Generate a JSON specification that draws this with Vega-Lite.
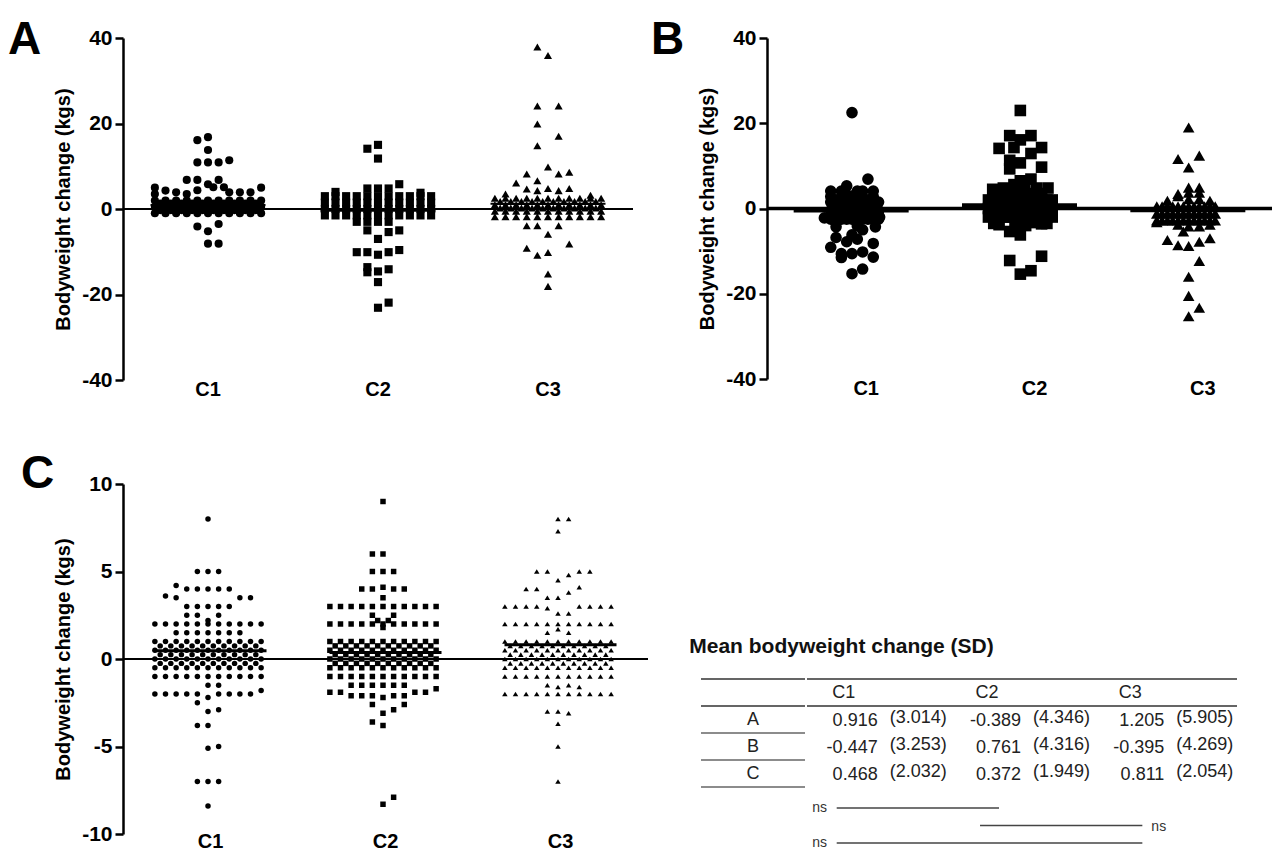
{
"$schema": "https://vega.github.io/schema/vega-lite/v6.json",
"background": "white",
"padding": {"left": 8, "top": 17, "right": 0, "bottom": 0},
"config": {
  "view": {"stroke": null},
  "font": "Liberation Sans",
  "axis": {"labelColor": "black", "titleColor": "black", "grid": false},
  "axisY": {"domainColor": "black", "domainWidth": 2.5, "tickColor": "black", "tickWidth": 2.5, "tickSize": 8, "labelFontSize": 21, "labelFontWeight": "bold", "titleFontSize": 20, "titleFontWeight": "bold", "labelPadding": 3, "titlePadding": 8},
  "axisX": {"domain": false, "ticks": false, "labelAngle": 0, "labelFontSize": 20, "labelFontWeight": "bold", "labelPadding": -1},
  "title": {"fontSize": 46, "fontWeight": "bold", "color": "black", "anchor": "start", "frame": "group", "offset": 0}
},
"datasets": {
"A": [
{"group":"C1","slot":-5,"value":2},{"group":"C1","slot":-5,"value":0.5},{"group":"C1","slot":-5,"value":-1},
{"group":"C1","slot":-4,"value":2},{"group":"C1","slot":-4,"value":0.5},{"group":"C1","slot":-4,"value":-1},
{"group":"C1","slot":-3,"value":2},{"group":"C1","slot":-3,"value":0.5},{"group":"C1","slot":-3,"value":-1},
{"group":"C1","slot":-2,"value":2},{"group":"C1","slot":-2,"value":0.5},{"group":"C1","slot":-2,"value":-1},
{"group":"C1","slot":-1,"value":2},{"group":"C1","slot":-1,"value":0.5},{"group":"C1","slot":-1,"value":-1},
{"group":"C1","slot":0,"value":2},{"group":"C1","slot":0,"value":0.5},{"group":"C1","slot":0,"value":-1},
{"group":"C1","slot":1,"value":2},{"group":"C1","slot":1,"value":0.5},{"group":"C1","slot":1,"value":-1},
{"group":"C1","slot":2,"value":2},{"group":"C1","slot":2,"value":0.5},{"group":"C1","slot":2,"value":-1},
{"group":"C1","slot":3,"value":2},{"group":"C1","slot":3,"value":0.5},{"group":"C1","slot":3,"value":-1},
{"group":"C1","slot":4,"value":2},{"group":"C1","slot":4,"value":0.5},{"group":"C1","slot":4,"value":-1},
{"group":"C1","slot":5,"value":2},{"group":"C1","slot":5,"value":0.5},{"group":"C1","slot":5,"value":-1},
{"group":"C1","slot":-4.5,"value":1.25},{"group":"C1","slot":-3.5,"value":1.25},{"group":"C1","slot":-2.5,"value":1.25},{"group":"C1","slot":-1.5,"value":1.25},{"group":"C1","slot":-0.5,"value":1.25},
{"group":"C1","slot":0.5,"value":1.25},{"group":"C1","slot":1.5,"value":1.25},{"group":"C1","slot":2.5,"value":1.25},{"group":"C1","slot":3.5,"value":1.25},{"group":"C1","slot":4.5,"value":1.25},
{"group":"C1","slot":-4.5,"value":-0.25},{"group":"C1","slot":-3.5,"value":-0.25},{"group":"C1","slot":-2.5,"value":-0.25},{"group":"C1","slot":-1.5,"value":-0.25},{"group":"C1","slot":-0.5,"value":-0.25},
{"group":"C1","slot":0.5,"value":-0.25},{"group":"C1","slot":1.5,"value":-0.25},{"group":"C1","slot":2.5,"value":-0.25},{"group":"C1","slot":3.5,"value":-0.25},{"group":"C1","slot":4.5,"value":-0.25},
{"group":"C1","slot":-5,"value":5.0},{"group":"C1","slot":-5,"value":3.5},{"group":"C1","slot":-4,"value":4.3},{"group":"C1","slot":-3,"value":3.9},
{"group":"C1","slot":-2,"value":3.5},{"group":"C1","slot":-1,"value":4.4},{"group":"C1","slot":0,"value":5.8},{"group":"C1","slot":0.5,"value":5.1},
{"group":"C1","slot":1.5,"value":5.1},{"group":"C1","slot":1,"value":6.8},{"group":"C1","slot":-1,"value":6.8},{"group":"C1","slot":-2,"value":6.8},
{"group":"C1","slot":2,"value":3.9},{"group":"C1","slot":3,"value":3.9},{"group":"C1","slot":4,"value":3.9},{"group":"C1","slot":5,"value":5.0},
{"group":"C1","slot":-1,"value":10.9},{"group":"C1","slot":0,"value":10.9},{"group":"C1","slot":1,"value":10.9},{"group":"C1","slot":2,"value":11.4},
{"group":"C1","slot":-1,"value":16.1},{"group":"C1","slot":0,"value":16.8},{"group":"C1","slot":0,"value":13.8},
{"group":"C1","slot":-1,"value":-4.1},{"group":"C1","slot":1,"value":-3.5},{"group":"C1","slot":0,"value":-5.2},{"group":"C1","slot":0,"value":-8.1},{"group":"C1","slot":1,"value":-8.1},
{"group":"C2","slot":-5,"value":3},{"group":"C2","slot":-5,"value":1.5},{"group":"C2","slot":-5,"value":0},{"group":"C2","slot":-5,"value":-1.5},
{"group":"C2","slot":-4,"value":3},{"group":"C2","slot":-4,"value":1.5},{"group":"C2","slot":-4,"value":0},{"group":"C2","slot":-4,"value":-1.5},
{"group":"C2","slot":-3,"value":3},{"group":"C2","slot":-3,"value":1.5},{"group":"C2","slot":-3,"value":0},{"group":"C2","slot":-3,"value":-1.5},
{"group":"C2","slot":-2,"value":3},{"group":"C2","slot":-2,"value":1.5},{"group":"C2","slot":-2,"value":0},{"group":"C2","slot":-2,"value":-1.5},
{"group":"C2","slot":-1,"value":3},{"group":"C2","slot":-1,"value":1.5},{"group":"C2","slot":-1,"value":0},{"group":"C2","slot":-1,"value":-1.5},
{"group":"C2","slot":0,"value":3},{"group":"C2","slot":0,"value":1.5},{"group":"C2","slot":0,"value":0},{"group":"C2","slot":0,"value":-1.5},
{"group":"C2","slot":1,"value":3},{"group":"C2","slot":1,"value":1.5},{"group":"C2","slot":1,"value":0},{"group":"C2","slot":1,"value":-1.5},
{"group":"C2","slot":2,"value":3},{"group":"C2","slot":2,"value":1.5},{"group":"C2","slot":2,"value":0},{"group":"C2","slot":2,"value":-1.5},
{"group":"C2","slot":3,"value":3},{"group":"C2","slot":3,"value":1.5},{"group":"C2","slot":3,"value":0},{"group":"C2","slot":3,"value":-1.5},
{"group":"C2","slot":4,"value":3},{"group":"C2","slot":4,"value":1.5},{"group":"C2","slot":4,"value":0},{"group":"C2","slot":4,"value":-1.5},
{"group":"C2","slot":5,"value":3},{"group":"C2","slot":5,"value":1.5},{"group":"C2","slot":5,"value":0},{"group":"C2","slot":5,"value":-1.5},
{"group":"C2","slot":-1,"value":14.1},{"group":"C2","slot":0,"value":15.0},{"group":"C2","slot":0,"value":11.8},{"group":"C2","slot":-1,"value":4.8},
{"group":"C2","slot":0,"value":4.8},{"group":"C2","slot":1,"value":4.8},{"group":"C2","slot":2,"value":5.8},{"group":"C2","slot":-4,"value":4},{"group":"C2","slot":4,"value":3.8},
{"group":"C2","slot":-2,"value":-3},{"group":"C2","slot":-1,"value":-3},{"group":"C2","slot":0,"value":-3},{"group":"C2","slot":1,"value":-3},
{"group":"C2","slot":-1,"value":-5.0},{"group":"C2","slot":1,"value":-5.4},{"group":"C2","slot":2,"value":-5.0},{"group":"C2","slot":0,"value":-7.0},
{"group":"C2","slot":-2,"value":-10.1},{"group":"C2","slot":-1,"value":-10.1},{"group":"C2","slot":0,"value":-10.7},{"group":"C2","slot":1,"value":-10.1},{"group":"C2","slot":2,"value":-9.6},
{"group":"C2","slot":-1,"value":-13.6},{"group":"C2","slot":-1,"value":-14.8},{"group":"C2","slot":0,"value":-14.6},{"group":"C2","slot":1,"value":-14.1},
{"group":"C2","slot":0,"value":-17.1},{"group":"C2","slot":0,"value":-23.1},{"group":"C2","slot":1,"value":-21.9},
{"group":"C3","slot":-5,"value":2.5},{"group":"C3","slot":-5,"value":1},{"group":"C3","slot":-5,"value":-0.5},{"group":"C3","slot":-5,"value":-1.8},
{"group":"C3","slot":-4,"value":2.5},{"group":"C3","slot":-4,"value":1},{"group":"C3","slot":-4,"value":-0.5},{"group":"C3","slot":-4,"value":-1.8},
{"group":"C3","slot":-3,"value":2.5},{"group":"C3","slot":-3,"value":1},{"group":"C3","slot":-3,"value":-0.5},{"group":"C3","slot":-3,"value":-1.8},
{"group":"C3","slot":-2,"value":2.5},{"group":"C3","slot":-2,"value":1},{"group":"C3","slot":-2,"value":-0.5},{"group":"C3","slot":-2,"value":-1.8},
{"group":"C3","slot":-1,"value":2.5},{"group":"C3","slot":-1,"value":1},{"group":"C3","slot":-1,"value":-0.5},{"group":"C3","slot":-1,"value":-1.8},
{"group":"C3","slot":0,"value":2.5},{"group":"C3","slot":0,"value":1},{"group":"C3","slot":0,"value":-0.5},{"group":"C3","slot":0,"value":-1.8},
{"group":"C3","slot":1,"value":2.5},{"group":"C3","slot":1,"value":1},{"group":"C3","slot":1,"value":-0.5},{"group":"C3","slot":1,"value":-1.8},
{"group":"C3","slot":2,"value":2.5},{"group":"C3","slot":2,"value":1},{"group":"C3","slot":2,"value":-0.5},{"group":"C3","slot":2,"value":-1.8},
{"group":"C3","slot":3,"value":2.5},{"group":"C3","slot":3,"value":1},{"group":"C3","slot":3,"value":-0.5},{"group":"C3","slot":3,"value":-1.8},
{"group":"C3","slot":4,"value":2.5},{"group":"C3","slot":4,"value":1},{"group":"C3","slot":4,"value":-0.5},{"group":"C3","slot":4,"value":-1.8},
{"group":"C3","slot":5,"value":2.5},{"group":"C3","slot":5,"value":1},{"group":"C3","slot":5,"value":-0.5},{"group":"C3","slot":5,"value":-1.8},
{"group":"C3","slot":-4.5,"value":1.75},{"group":"C3","slot":-3.5,"value":1.75},{"group":"C3","slot":-2.5,"value":1.75},{"group":"C3","slot":-1.5,"value":1.75},{"group":"C3","slot":-0.5,"value":1.75},
{"group":"C3","slot":0.5,"value":1.75},{"group":"C3","slot":1.5,"value":1.75},{"group":"C3","slot":2.5,"value":1.75},{"group":"C3","slot":3.5,"value":1.75},{"group":"C3","slot":4.5,"value":1.75},
{"group":"C3","slot":-4.5,"value":0.25},{"group":"C3","slot":-3.5,"value":0.25},{"group":"C3","slot":-2.5,"value":0.25},{"group":"C3","slot":-1.5,"value":0.25},{"group":"C3","slot":-0.5,"value":0.25},
{"group":"C3","slot":0.5,"value":0.25},{"group":"C3","slot":1.5,"value":0.25},{"group":"C3","slot":2.5,"value":0.25},{"group":"C3","slot":3.5,"value":0.25},{"group":"C3","slot":4.5,"value":0.25},
{"group":"C3","slot":-1,"value":37.9},{"group":"C3","slot":0,"value":35.9},{"group":"C3","slot":-1,"value":24.1},{"group":"C3","slot":1,"value":24.1},
{"group":"C3","slot":-1,"value":19.9},{"group":"C3","slot":1,"value":17.0},{"group":"C3","slot":-1,"value":14.8},{"group":"C3","slot":0,"value":9.8},
{"group":"C3","slot":-2,"value":8.2},{"group":"C3","slot":1,"value":8.2},{"group":"C3","slot":2,"value":8.6},{"group":"C3","slot":-1,"value":6.6},{"group":"C3","slot":-3,"value":6.1},
{"group":"C3","slot":-2,"value":4.7},{"group":"C3","slot":-1,"value":4.3},{"group":"C3","slot":0,"value":4.8},{"group":"C3","slot":1,"value":4.3},{"group":"C3","slot":2,"value":4.8},
{"group":"C3","slot":-4,"value":3.5},{"group":"C3","slot":4,"value":3.2},
{"group":"C3","slot":-2,"value":-3.9},{"group":"C3","slot":-1,"value":-3.9},{"group":"C3","slot":1,"value":-3.9},{"group":"C3","slot":0,"value":-5.9},
{"group":"C3","slot":-2,"value":-9.2},{"group":"C3","slot":-1,"value":-10.8},{"group":"C3","slot":0,"value":-10.2},{"group":"C3","slot":2,"value":-8.2},
{"group":"C3","slot":0,"value":-15.2},{"group":"C3","slot":0,"value":-18.1}
],
"B": [
{"group":"C1","slot":-2,"value":1.5},{"group":"C1","slot":-2,"value":-0.5},{"group":"C1","slot":-2,"value":-2.5},
{"group":"C1","slot":-1.5,"value":1.5},{"group":"C1","slot":-1.5,"value":-0.5},{"group":"C1","slot":-1.5,"value":-2.5},
{"group":"C1","slot":-1,"value":1.5},{"group":"C1","slot":-1,"value":-0.5},{"group":"C1","slot":-1,"value":-2.5},
{"group":"C1","slot":-0.5,"value":1.5},{"group":"C1","slot":-0.5,"value":-0.5},{"group":"C1","slot":-0.5,"value":-2.5},
{"group":"C1","slot":0,"value":1.5},{"group":"C1","slot":0,"value":-0.5},{"group":"C1","slot":0,"value":-2.5},
{"group":"C1","slot":0.5,"value":1.5},{"group":"C1","slot":0.5,"value":-0.5},{"group":"C1","slot":0.5,"value":-2.5},
{"group":"C1","slot":1,"value":1.5},{"group":"C1","slot":1,"value":-0.5},{"group":"C1","slot":1,"value":-2.5},
{"group":"C1","slot":1.5,"value":1.5},{"group":"C1","slot":1.5,"value":-0.5},{"group":"C1","slot":1.5,"value":-2.5},
{"group":"C1","slot":2,"value":1.5},{"group":"C1","slot":2,"value":-0.5},{"group":"C1","slot":2,"value":-2.5},
{"group":"C1","slot":2.5,"value":1.5},{"group":"C1","slot":2.5,"value":-0.5},{"group":"C1","slot":2.5,"value":-2.5},
{"group":"C1","slot":0,"value":22.5},{"group":"C1","slot":-2,"value":2.8},{"group":"C1","slot":-2,"value":4.1},{"group":"C1","slot":-1,"value":2.8},{"group":"C1","slot":-1,"value":4.1},
{"group":"C1","slot":-0.5,"value":3.2},{"group":"C1","slot":-0.5,"value":5.3},{"group":"C1","slot":0,"value":2.9},{"group":"C1","slot":0.5,"value":2.8},{"group":"C1","slot":0.5,"value":4.1},
{"group":"C1","slot":1,"value":2.8},{"group":"C1","slot":1,"value":4.1},{"group":"C1","slot":1.5,"value":6.9},{"group":"C1","slot":2,"value":2.8},{"group":"C1","slot":2,"value":4.1},
{"group":"C1","slot":-2.6,"value":-2.2},{"group":"C1","slot":2.6,"value":-2},{"group":"C1","slot":-1.5,"value":-4.3},{"group":"C1","slot":0.5,"value":-4.1},{"group":"C1","slot":2.2,"value":-4.3},
{"group":"C1","slot":-1.5,"value":-6.8},{"group":"C1","slot":-2,"value":-9.1},{"group":"C1","slot":-0.5,"value":-7.8},{"group":"C1","slot":-1,"value":-10.6},{"group":"C1","slot":-1,"value":-11.5},
{"group":"C1","slot":0,"value":-6.2},{"group":"C1","slot":0.5,"value":-7.2},{"group":"C1","slot":1,"value":-5.0},{"group":"C1","slot":0,"value":-10.6},{"group":"C1","slot":1,"value":-10.2},
{"group":"C1","slot":2,"value":-8.2},{"group":"C1","slot":2,"value":-11.4},{"group":"C1","slot":0,"value":-15.3},{"group":"C1","slot":1,"value":-14.2},
{"group":"C2","slot":-3,"value":2},{"group":"C2","slot":-3,"value":0},{"group":"C2","slot":-3,"value":-2},
{"group":"C2","slot":-2.5,"value":2},{"group":"C2","slot":-2.5,"value":0},{"group":"C2","slot":-2.5,"value":-2},
{"group":"C2","slot":-2,"value":2},{"group":"C2","slot":-2,"value":0},{"group":"C2","slot":-2,"value":-2},
{"group":"C2","slot":-1.5,"value":2},{"group":"C2","slot":-1.5,"value":0},{"group":"C2","slot":-1.5,"value":-2},
{"group":"C2","slot":-1,"value":2},{"group":"C2","slot":-1,"value":0},{"group":"C2","slot":-1,"value":-2},
{"group":"C2","slot":-0.5,"value":2},{"group":"C2","slot":-0.5,"value":0},{"group":"C2","slot":-0.5,"value":-2},
{"group":"C2","slot":0,"value":2},{"group":"C2","slot":0,"value":0},{"group":"C2","slot":0,"value":-2},
{"group":"C2","slot":0.5,"value":2},{"group":"C2","slot":0.5,"value":0},{"group":"C2","slot":0.5,"value":-2},
{"group":"C2","slot":1,"value":2},{"group":"C2","slot":1,"value":0},{"group":"C2","slot":1,"value":-2},
{"group":"C2","slot":1.5,"value":2},{"group":"C2","slot":1.5,"value":0},{"group":"C2","slot":1.5,"value":-2},
{"group":"C2","slot":2,"value":2},{"group":"C2","slot":2,"value":0},{"group":"C2","slot":2,"value":-2},
{"group":"C2","slot":2.5,"value":2},{"group":"C2","slot":2.5,"value":0},{"group":"C2","slot":2.5,"value":-2},
{"group":"C2","slot":3,"value":2},{"group":"C2","slot":3,"value":0},{"group":"C2","slot":3,"value":-2},
{"group":"C2","slot":0,"value":23.0},{"group":"C2","slot":-1,"value":17.1},{"group":"C2","slot":0,"value":16.1},{"group":"C2","slot":1,"value":17.1},
{"group":"C2","slot":-2,"value":14.1},{"group":"C2","slot":-0.6,"value":14.3},{"group":"C2","slot":2,"value":14.3},{"group":"C2","slot":-1,"value":11.3},
{"group":"C2","slot":-1,"value":9.3},{"group":"C2","slot":0,"value":10.7},{"group":"C2","slot":1,"value":12.9},{"group":"C2","slot":2,"value":9.7},
{"group":"C2","slot":1,"value":6.9},{"group":"C2","slot":0,"value":6.5},{"group":"C2","slot":-2.6,"value":4.5},{"group":"C2","slot":-1.6,"value":4.8},
{"group":"C2","slot":-0.6,"value":5.6},{"group":"C2","slot":0.4,"value":5.6},{"group":"C2","slot":1.5,"value":4.8},{"group":"C2","slot":2.6,"value":4.8},
{"group":"C2","slot":-2,"value":3.5},{"group":"C2","slot":-1,"value":3.5},{"group":"C2","slot":0,"value":3.5},{"group":"C2","slot":1,"value":3.5},{"group":"C2","slot":2,"value":3.5},
{"group":"C2","slot":-2.5,"value":-3.5},{"group":"C2","slot":-2,"value":-3.8},{"group":"C2","slot":-1,"value":-5.4},{"group":"C2","slot":-0.5,"value":-4},
{"group":"C2","slot":0,"value":-6.2},{"group":"C2","slot":0.5,"value":-4},{"group":"C2","slot":1,"value":-3.3},{"group":"C2","slot":2,"value":-3.6},{"group":"C2","slot":2.5,"value":-3.5},
{"group":"C2","slot":-1,"value":-12.2},{"group":"C2","slot":0,"value":-15.4},{"group":"C2","slot":1,"value":-14.6},{"group":"C2","slot":2,"value":-11.2},
{"group":"C3","slot":-3,"value":0.5},{"group":"C3","slot":-3,"value":-1.2},{"group":"C3","slot":-3,"value":-2.8},
{"group":"C3","slot":-2.5,"value":0.5},{"group":"C3","slot":-2.5,"value":-1.2},{"group":"C3","slot":-2.5,"value":-2.8},
{"group":"C3","slot":-2,"value":0.5},{"group":"C3","slot":-2,"value":-1.2},{"group":"C3","slot":-2,"value":-2.8},
{"group":"C3","slot":-1.5,"value":0.5},{"group":"C3","slot":-1.5,"value":-1.2},{"group":"C3","slot":-1.5,"value":-2.8},
{"group":"C3","slot":-1,"value":0.5},{"group":"C3","slot":-1,"value":-1.2},{"group":"C3","slot":-1,"value":-2.8},
{"group":"C3","slot":-0.5,"value":0.5},{"group":"C3","slot":-0.5,"value":-1.2},{"group":"C3","slot":-0.5,"value":-2.8},
{"group":"C3","slot":0,"value":0.5},{"group":"C3","slot":0,"value":-1.2},{"group":"C3","slot":0,"value":-2.8},
{"group":"C3","slot":0.5,"value":0.5},{"group":"C3","slot":0.5,"value":-1.2},{"group":"C3","slot":0.5,"value":-2.8},
{"group":"C3","slot":1,"value":0.5},{"group":"C3","slot":1,"value":-1.2},{"group":"C3","slot":1,"value":-2.8},
{"group":"C3","slot":1.5,"value":0.5},{"group":"C3","slot":1.5,"value":-1.2},{"group":"C3","slot":1.5,"value":-2.8},
{"group":"C3","slot":2,"value":0.5},{"group":"C3","slot":2,"value":-1.2},{"group":"C3","slot":2,"value":-2.8},
{"group":"C3","slot":2.5,"value":0.5},{"group":"C3","slot":2.5,"value":-1.2},{"group":"C3","slot":2.5,"value":-2.8},
{"group":"C3","slot":0,"value":19.0},{"group":"C3","slot":-1,"value":11.6},{"group":"C3","slot":1,"value":12.4},{"group":"C3","slot":0,"value":9.6},
{"group":"C3","slot":0,"value":4.9},{"group":"C3","slot":1,"value":4.9},{"group":"C3","slot":-1,"value":3.4},{"group":"C3","slot":-2,"value":1.8},{"group":"C3","slot":2,"value":1.8},
{"group":"C3","slot":-1,"value":2.9},{"group":"C3","slot":0,"value":3.7},{"group":"C3","slot":1,"value":3.7},{"group":"C3","slot":0,"value":2.2},{"group":"C3","slot":1,"value":2.2},
{"group":"C3","slot":-3,"value":-3.2},{"group":"C3","slot":0,"value":-25.3},{"group":"C3","slot":1,"value":-23.3},{"group":"C3","slot":0,"value":-20.5},
{"group":"C3","slot":0,"value":-16.0},{"group":"C3","slot":1,"value":-12.3},{"group":"C3","slot":1,"value":-7.8},{"group":"C3","slot":0,"value":-8.8},
{"group":"C3","slot":-1,"value":-8.6},{"group":"C3","slot":-2,"value":-7.4},{"group":"C3","slot":2,"value":-7.0},{"group":"C3","slot":-0.5,"value":-5.4},
{"group":"C3","slot":-1,"value":-3.8},{"group":"C3","slot":0,"value":-4.2},{"group":"C3","slot":1,"value":-4.2},{"group":"C3","slot":2,"value":-3.8}
],
"C": [
{"group":"C1","slot":-5,"value":2},{"group":"C1","slot":-4,"value":2},{"group":"C1","slot":-3,"value":2},{"group":"C1","slot":-2,"value":2},{"group":"C1","slot":-1,"value":2},{"group":"C1","slot":0,"value":2},{"group":"C1","slot":1,"value":2},{"group":"C1","slot":2,"value":2},{"group":"C1","slot":3,"value":2},{"group":"C1","slot":4,"value":2},{"group":"C1","slot":5,"value":2},
{"group":"C1","slot":-5,"value":1},{"group":"C1","slot":-4,"value":1},{"group":"C1","slot":-3,"value":1},{"group":"C1","slot":-2,"value":1},{"group":"C1","slot":-1,"value":1},{"group":"C1","slot":0,"value":1},{"group":"C1","slot":1,"value":1},{"group":"C1","slot":2,"value":1},{"group":"C1","slot":3,"value":1},{"group":"C1","slot":4,"value":1},{"group":"C1","slot":5,"value":1},
{"group":"C1","slot":-5,"value":0.5},{"group":"C1","slot":-4,"value":0.5},{"group":"C1","slot":-3,"value":0.5},{"group":"C1","slot":-2,"value":0.5},{"group":"C1","slot":-1,"value":0.5},{"group":"C1","slot":0,"value":0.5},{"group":"C1","slot":1,"value":0.5},{"group":"C1","slot":2,"value":0.5},{"group":"C1","slot":3,"value":0.5},{"group":"C1","slot":4,"value":0.5},{"group":"C1","slot":5,"value":0.5},
{"group":"C1","slot":-5,"value":0},{"group":"C1","slot":-4,"value":0},{"group":"C1","slot":-3,"value":0},{"group":"C1","slot":-2,"value":0},{"group":"C1","slot":-1,"value":0},{"group":"C1","slot":0,"value":0},{"group":"C1","slot":1,"value":0},{"group":"C1","slot":2,"value":0},{"group":"C1","slot":3,"value":0},{"group":"C1","slot":4,"value":0},{"group":"C1","slot":5,"value":0},
{"group":"C1","slot":-5,"value":-0.5},{"group":"C1","slot":-4,"value":-0.5},{"group":"C1","slot":-3,"value":-0.5},{"group":"C1","slot":-2,"value":-0.5},{"group":"C1","slot":-1,"value":-0.5},{"group":"C1","slot":0,"value":-0.5},{"group":"C1","slot":1,"value":-0.5},{"group":"C1","slot":2,"value":-0.5},{"group":"C1","slot":3,"value":-0.5},{"group":"C1","slot":4,"value":-0.5},{"group":"C1","slot":5,"value":-0.5},
{"group":"C1","slot":-5,"value":-1},{"group":"C1","slot":-4,"value":-1},{"group":"C1","slot":-3,"value":-1},{"group":"C1","slot":-2,"value":-1},{"group":"C1","slot":-1,"value":-1},{"group":"C1","slot":0,"value":-1},{"group":"C1","slot":1,"value":-1},{"group":"C1","slot":2,"value":-1},{"group":"C1","slot":3,"value":-1},{"group":"C1","slot":4,"value":-1},{"group":"C1","slot":5,"value":-1},
{"group":"C1","slot":-4.5,"value":0.75},{"group":"C1","slot":-3.5,"value":0.75},{"group":"C1","slot":-2.5,"value":0.75},{"group":"C1","slot":-1.5,"value":0.75},{"group":"C1","slot":-0.5,"value":0.75},{"group":"C1","slot":0.5,"value":0.75},{"group":"C1","slot":1.5,"value":0.75},{"group":"C1","slot":2.5,"value":0.75},{"group":"C1","slot":3.5,"value":0.75},{"group":"C1","slot":4.5,"value":0.75},
{"group":"C1","slot":-4.5,"value":0.25},{"group":"C1","slot":-3.5,"value":0.25},{"group":"C1","slot":-2.5,"value":0.25},{"group":"C1","slot":-1.5,"value":0.25},{"group":"C1","slot":-0.5,"value":0.25},{"group":"C1","slot":0.5,"value":0.25},{"group":"C1","slot":1.5,"value":0.25},{"group":"C1","slot":2.5,"value":0.25},{"group":"C1","slot":3.5,"value":0.25},{"group":"C1","slot":4.5,"value":0.25},
{"group":"C1","slot":-4.5,"value":-0.25},{"group":"C1","slot":-3.5,"value":-0.25},{"group":"C1","slot":-2.5,"value":-0.25},{"group":"C1","slot":-1.5,"value":-0.25},{"group":"C1","slot":-0.5,"value":-0.25},{"group":"C1","slot":0.5,"value":-0.25},{"group":"C1","slot":1.5,"value":-0.25},{"group":"C1","slot":2.5,"value":-0.25},{"group":"C1","slot":3.5,"value":-0.25},{"group":"C1","slot":4.5,"value":-0.25},
{"group":"C1","slot":0,"value":8},{"group":"C1","slot":-1,"value":5},{"group":"C1","slot":0,"value":5},{"group":"C1","slot":1,"value":5},
{"group":"C1","slot":-3,"value":4.2},{"group":"C1","slot":-2,"value":4},{"group":"C1","slot":-1,"value":4},{"group":"C1","slot":0,"value":4},{"group":"C1","slot":1,"value":4},{"group":"C1","slot":2,"value":4},
{"group":"C1","slot":-4,"value":3.6},{"group":"C1","slot":-3,"value":3.5},{"group":"C1","slot":3,"value":3.5},{"group":"C1","slot":4,"value":3.5},
{"group":"C1","slot":-2,"value":3},{"group":"C1","slot":-1,"value":3},{"group":"C1","slot":0,"value":3},{"group":"C1","slot":1,"value":3},{"group":"C1","slot":2,"value":3},
{"group":"C1","slot":-2,"value":2.5},{"group":"C1","slot":-1,"value":2.5},{"group":"C1","slot":1,"value":2.5},{"group":"C1","slot":0,"value":2.2},
{"group":"C1","slot":-3,"value":1.5},{"group":"C1","slot":-2,"value":1.5},{"group":"C1","slot":-1,"value":1.5},{"group":"C1","slot":0,"value":1.5},{"group":"C1","slot":1,"value":1.5},{"group":"C1","slot":2,"value":1.5},{"group":"C1","slot":3,"value":1.5},
{"group":"C1","slot":0,"value":-1.5},{"group":"C1","slot":1,"value":-1.5},
{"group":"C1","slot":-5,"value":-2},{"group":"C1","slot":-4,"value":-2},{"group":"C1","slot":-3,"value":-2},{"group":"C1","slot":-2,"value":-2},{"group":"C1","slot":-1,"value":-2},{"group":"C1","slot":1,"value":-2},{"group":"C1","slot":2,"value":-2},{"group":"C1","slot":3,"value":-2},{"group":"C1","slot":4,"value":-2},{"group":"C1","slot":5,"value":-1.8},
{"group":"C1","slot":-1,"value":-2.5},{"group":"C1","slot":0,"value":-2.2},{"group":"C1","slot":0,"value":-3},{"group":"C1","slot":1,"value":-2.9},
{"group":"C1","slot":-1,"value":-3.8},{"group":"C1","slot":0,"value":-3.8},{"group":"C1","slot":0,"value":-5.1},{"group":"C1","slot":1,"value":-5},
{"group":"C1","slot":-1,"value":-7},{"group":"C1","slot":0,"value":-7},{"group":"C1","slot":1,"value":-7},{"group":"C1","slot":0,"value":-8.4},
{"group":"C2","slot":-5,"value":3},{"group":"C2","slot":-4,"value":3},{"group":"C2","slot":-3,"value":3},{"group":"C2","slot":-2,"value":3},{"group":"C2","slot":-1,"value":3},{"group":"C2","slot":0,"value":3},{"group":"C2","slot":1,"value":3},{"group":"C2","slot":2,"value":3},{"group":"C2","slot":3,"value":3},{"group":"C2","slot":4,"value":3},{"group":"C2","slot":5,"value":3},
{"group":"C2","slot":-5,"value":2},{"group":"C2","slot":-4,"value":2},{"group":"C2","slot":-3,"value":2},{"group":"C2","slot":-2,"value":2},{"group":"C2","slot":-1,"value":2},{"group":"C2","slot":0,"value":2},{"group":"C2","slot":1,"value":2},{"group":"C2","slot":2,"value":2},{"group":"C2","slot":3,"value":2},{"group":"C2","slot":4,"value":2},{"group":"C2","slot":5,"value":2},
{"group":"C2","slot":-5,"value":1},{"group":"C2","slot":-4,"value":1},{"group":"C2","slot":-3,"value":1},{"group":"C2","slot":-2,"value":1},{"group":"C2","slot":-1,"value":1},{"group":"C2","slot":0,"value":1},{"group":"C2","slot":1,"value":1},{"group":"C2","slot":2,"value":1},{"group":"C2","slot":3,"value":1},{"group":"C2","slot":4,"value":1},{"group":"C2","slot":5,"value":1},
{"group":"C2","slot":-5,"value":0.5},{"group":"C2","slot":-4,"value":0.5},{"group":"C2","slot":-3,"value":0.5},{"group":"C2","slot":-2,"value":0.5},{"group":"C2","slot":-1,"value":0.5},{"group":"C2","slot":0,"value":0.5},{"group":"C2","slot":1,"value":0.5},{"group":"C2","slot":2,"value":0.5},{"group":"C2","slot":3,"value":0.5},{"group":"C2","slot":4,"value":0.5},{"group":"C2","slot":5,"value":0.5},
{"group":"C2","slot":-5,"value":0},{"group":"C2","slot":-4,"value":0},{"group":"C2","slot":-3,"value":0},{"group":"C2","slot":-2,"value":0},{"group":"C2","slot":-1,"value":0},{"group":"C2","slot":0,"value":0},{"group":"C2","slot":1,"value":0},{"group":"C2","slot":2,"value":0},{"group":"C2","slot":3,"value":0},{"group":"C2","slot":4,"value":0},{"group":"C2","slot":5,"value":0},
{"group":"C2","slot":-5,"value":-0.5},{"group":"C2","slot":-4,"value":-0.5},{"group":"C2","slot":-3,"value":-0.5},{"group":"C2","slot":-2,"value":-0.5},{"group":"C2","slot":-1,"value":-0.5},{"group":"C2","slot":0,"value":-0.5},{"group":"C2","slot":1,"value":-0.5},{"group":"C2","slot":2,"value":-0.5},{"group":"C2","slot":3,"value":-0.5},{"group":"C2","slot":4,"value":-0.5},{"group":"C2","slot":5,"value":-0.5},
{"group":"C2","slot":-5,"value":-1},{"group":"C2","slot":-4,"value":-1},{"group":"C2","slot":-3,"value":-1},{"group":"C2","slot":-2,"value":-1},{"group":"C2","slot":-1,"value":-1},{"group":"C2","slot":0,"value":-1},{"group":"C2","slot":1,"value":-1},{"group":"C2","slot":2,"value":-1},{"group":"C2","slot":3,"value":-1},{"group":"C2","slot":4,"value":-1},{"group":"C2","slot":5,"value":-1},
{"group":"C2","slot":-4.5,"value":0.75},{"group":"C2","slot":-3.5,"value":0.75},{"group":"C2","slot":-2.5,"value":0.75},{"group":"C2","slot":-1.5,"value":0.75},{"group":"C2","slot":-0.5,"value":0.75},{"group":"C2","slot":0.5,"value":0.75},{"group":"C2","slot":1.5,"value":0.75},{"group":"C2","slot":2.5,"value":0.75},{"group":"C2","slot":3.5,"value":0.75},{"group":"C2","slot":4.5,"value":0.75},
{"group":"C2","slot":-4.5,"value":0.25},{"group":"C2","slot":-3.5,"value":0.25},{"group":"C2","slot":-2.5,"value":0.25},{"group":"C2","slot":-1.5,"value":0.25},{"group":"C2","slot":-0.5,"value":0.25},{"group":"C2","slot":0.5,"value":0.25},{"group":"C2","slot":1.5,"value":0.25},{"group":"C2","slot":2.5,"value":0.25},{"group":"C2","slot":3.5,"value":0.25},{"group":"C2","slot":4.5,"value":0.25},
{"group":"C2","slot":-4.5,"value":-0.25},{"group":"C2","slot":-3.5,"value":-0.25},{"group":"C2","slot":-2.5,"value":-0.25},{"group":"C2","slot":-1.5,"value":-0.25},{"group":"C2","slot":-0.5,"value":-0.25},{"group":"C2","slot":0.5,"value":-0.25},{"group":"C2","slot":1.5,"value":-0.25},{"group":"C2","slot":2.5,"value":-0.25},{"group":"C2","slot":3.5,"value":-0.25},{"group":"C2","slot":4.5,"value":-0.25},
{"group":"C2","slot":0,"value":9},{"group":"C2","slot":-1,"value":6},{"group":"C2","slot":0,"value":6},{"group":"C2","slot":-1,"value":5},{"group":"C2","slot":0,"value":5},{"group":"C2","slot":1,"value":5},
{"group":"C2","slot":-2,"value":4},{"group":"C2","slot":-1,"value":4},{"group":"C2","slot":0,"value":4.1},{"group":"C2","slot":1,"value":4},{"group":"C2","slot":2,"value":4},
{"group":"C2","slot":0,"value":3.5},{"group":"C2","slot":-1,"value":2.5},{"group":"C2","slot":1,"value":2.5},{"group":"C2","slot":0,"value":1.8},{"group":"C2","slot":-0.5,"value":2.2},{"group":"C2","slot":0.5,"value":2.2},
{"group":"C2","slot":-3,"value":-1.5},{"group":"C2","slot":-2,"value":-1.5},{"group":"C2","slot":-1,"value":-1.5},{"group":"C2","slot":0,"value":-1.5},{"group":"C2","slot":1,"value":-1.5},{"group":"C2","slot":2,"value":-1.5},
{"group":"C2","slot":-5,"value":-1.9},{"group":"C2","slot":-4,"value":-1.9},{"group":"C2","slot":-3,"value":-2.1},{"group":"C2","slot":-2,"value":-2.1},{"group":"C2","slot":-1,"value":-2.1},{"group":"C2","slot":0,"value":-2.2},
{"group":"C2","slot":1,"value":-2.1},{"group":"C2","slot":2,"value":-2.1},{"group":"C2","slot":3,"value":-1.9},{"group":"C2","slot":4,"value":-1.9},{"group":"C2","slot":5,"value":-1.7},
{"group":"C2","slot":-1,"value":-2.6},{"group":"C2","slot":0,"value":-3.1},{"group":"C2","slot":1,"value":-2.9},{"group":"C2","slot":2,"value":-2.6},
{"group":"C2","slot":-1,"value":-3.6},{"group":"C2","slot":0,"value":-3.8},{"group":"C2","slot":0,"value":-8.3},{"group":"C2","slot":1,"value":-7.9},
{"group":"C3","slot":-5,"value":2},{"group":"C3","slot":-4,"value":2},{"group":"C3","slot":-3,"value":2},{"group":"C3","slot":-2,"value":2},{"group":"C3","slot":-1,"value":2},{"group":"C3","slot":0,"value":2},{"group":"C3","slot":1,"value":2},{"group":"C3","slot":2,"value":2},{"group":"C3","slot":3,"value":2},{"group":"C3","slot":4,"value":2},{"group":"C3","slot":5,"value":2},
{"group":"C3","slot":-5,"value":1},{"group":"C3","slot":-4,"value":1},{"group":"C3","slot":-3,"value":1},{"group":"C3","slot":-2,"value":1},{"group":"C3","slot":-1,"value":1},{"group":"C3","slot":0,"value":1},{"group":"C3","slot":1,"value":1},{"group":"C3","slot":2,"value":1},{"group":"C3","slot":3,"value":1},{"group":"C3","slot":4,"value":1},{"group":"C3","slot":5,"value":1},
{"group":"C3","slot":-5,"value":0.5},{"group":"C3","slot":-4,"value":0.5},{"group":"C3","slot":-3,"value":0.5},{"group":"C3","slot":-2,"value":0.5},{"group":"C3","slot":-1,"value":0.5},{"group":"C3","slot":0,"value":0.5},{"group":"C3","slot":1,"value":0.5},{"group":"C3","slot":2,"value":0.5},{"group":"C3","slot":3,"value":0.5},{"group":"C3","slot":4,"value":0.5},{"group":"C3","slot":5,"value":0.5},
{"group":"C3","slot":-5,"value":0},{"group":"C3","slot":-4,"value":0},{"group":"C3","slot":-3,"value":0},{"group":"C3","slot":-2,"value":0},{"group":"C3","slot":-1,"value":0},{"group":"C3","slot":0,"value":0},{"group":"C3","slot":1,"value":0},{"group":"C3","slot":2,"value":0},{"group":"C3","slot":3,"value":0},{"group":"C3","slot":4,"value":0},{"group":"C3","slot":5,"value":0},
{"group":"C3","slot":-5,"value":-0.5},{"group":"C3","slot":-4,"value":-0.5},{"group":"C3","slot":-3,"value":-0.5},{"group":"C3","slot":-2,"value":-0.5},{"group":"C3","slot":-1,"value":-0.5},{"group":"C3","slot":0,"value":-0.5},{"group":"C3","slot":1,"value":-0.5},{"group":"C3","slot":2,"value":-0.5},{"group":"C3","slot":3,"value":-0.5},{"group":"C3","slot":4,"value":-0.5},{"group":"C3","slot":5,"value":-0.5},
{"group":"C3","slot":-5,"value":-1},{"group":"C3","slot":-4,"value":-1},{"group":"C3","slot":-3,"value":-1},{"group":"C3","slot":-2,"value":-1},{"group":"C3","slot":-1,"value":-1},{"group":"C3","slot":0,"value":-1},{"group":"C3","slot":1,"value":-1},{"group":"C3","slot":2,"value":-1},{"group":"C3","slot":3,"value":-1},{"group":"C3","slot":4,"value":-1},{"group":"C3","slot":5,"value":-1},
{"group":"C3","slot":-5,"value":-2},{"group":"C3","slot":-4,"value":-2},{"group":"C3","slot":-3,"value":-2},{"group":"C3","slot":-2,"value":-2},{"group":"C3","slot":-1,"value":-2},{"group":"C3","slot":0,"value":-2},{"group":"C3","slot":1,"value":-2},{"group":"C3","slot":2,"value":-2},{"group":"C3","slot":3,"value":-2},{"group":"C3","slot":4,"value":-2},{"group":"C3","slot":5,"value":-2},
{"group":"C3","slot":-4.5,"value":0.75},{"group":"C3","slot":-3.5,"value":0.75},{"group":"C3","slot":-2.5,"value":0.75},{"group":"C3","slot":-1.5,"value":0.75},{"group":"C3","slot":-0.5,"value":0.75},{"group":"C3","slot":0.5,"value":0.75},{"group":"C3","slot":1.5,"value":0.75},{"group":"C3","slot":2.5,"value":0.75},{"group":"C3","slot":3.5,"value":0.75},{"group":"C3","slot":4.5,"value":0.75},
{"group":"C3","slot":-4.5,"value":0.25},{"group":"C3","slot":-3.5,"value":0.25},{"group":"C3","slot":-2.5,"value":0.25},{"group":"C3","slot":-1.5,"value":0.25},{"group":"C3","slot":-0.5,"value":0.25},{"group":"C3","slot":0.5,"value":0.25},{"group":"C3","slot":1.5,"value":0.25},{"group":"C3","slot":2.5,"value":0.25},{"group":"C3","slot":3.5,"value":0.25},{"group":"C3","slot":4.5,"value":0.25},
{"group":"C3","slot":-4.5,"value":-0.25},{"group":"C3","slot":-3.5,"value":-0.25},{"group":"C3","slot":-2.5,"value":-0.25},{"group":"C3","slot":-1.5,"value":-0.25},{"group":"C3","slot":-0.5,"value":-0.25},{"group":"C3","slot":0.5,"value":-0.25},{"group":"C3","slot":1.5,"value":-0.25},{"group":"C3","slot":2.5,"value":-0.25},{"group":"C3","slot":3.5,"value":-0.25},{"group":"C3","slot":4.5,"value":-0.25},
{"group":"C3","slot":0,"value":8},{"group":"C3","slot":1,"value":8},{"group":"C3","slot":0,"value":7.3},
{"group":"C3","slot":-2,"value":5},{"group":"C3","slot":-1,"value":5},{"group":"C3","slot":2,"value":5},{"group":"C3","slot":3,"value":5},{"group":"C3","slot":0,"value":4.5},{"group":"C3","slot":1,"value":4.8},
{"group":"C3","slot":-3,"value":4},{"group":"C3","slot":-2,"value":4},{"group":"C3","slot":2,"value":4.1},{"group":"C3","slot":-1,"value":3.5},{"group":"C3","slot":0,"value":3.5},{"group":"C3","slot":1,"value":3.8},
{"group":"C3","slot":-5,"value":3},{"group":"C3","slot":-4,"value":3},{"group":"C3","slot":-3,"value":3},{"group":"C3","slot":-2,"value":3},{"group":"C3","slot":2,"value":3},{"group":"C3","slot":3,"value":3},{"group":"C3","slot":4,"value":3},{"group":"C3","slot":5,"value":3},
{"group":"C3","slot":-1,"value":2.9},{"group":"C3","slot":0,"value":2.6},{"group":"C3","slot":1,"value":2.6},
{"group":"C3","slot":-1,"value":1.5},{"group":"C3","slot":0,"value":1.7},{"group":"C3","slot":1,"value":1.5},
{"group":"C3","slot":-1,"value":-1.5},{"group":"C3","slot":0,"value":-1.6},{"group":"C3","slot":1,"value":-1.5},{"group":"C3","slot":2,"value":-1.6},
{"group":"C3","slot":-1,"value":-3},{"group":"C3","slot":0,"value":-3},{"group":"C3","slot":1,"value":-3.1},{"group":"C3","slot":0,"value":-3.7},{"group":"C3","slot":0,"value":-5},{"group":"C3","slot":0,"value":-7}
],
"means": [
{"panel":"A","group":"C1","mean":0.916,"sd":3.014},{"panel":"A","group":"C2","mean":-0.389,"sd":4.346},{"panel":"A","group":"C3","mean":1.205,"sd":5.905},
{"panel":"B","group":"C1","mean":-0.447,"sd":3.253},{"panel":"B","group":"C2","mean":0.761,"sd":4.316},{"panel":"B","group":"C3","mean":-0.395,"sd":4.269},
{"panel":"C","group":"C1","mean":0.468,"sd":2.032},{"panel":"C","group":"C2","mean":0.372,"sd":1.949},{"panel":"C","group":"C3","mean":0.811,"sd":2.054}
],
"ns": [
{"pair":"C1-C2","from":"C1","to":"C2","result":"ns"},
{"pair":"C2-C3","from":"C2","to":"C3","result":"ns"},
{"pair":"C1-C3","from":"C1","to":"C3","result":"ns"}
]
},
"vconcat": [
{"hconcat": [
  {"width": 510, "height": 342,
   "title": {"text": "A", "dx": -115, "dy": 41},
   "layer": [
    {"data": {"name": "A"},
     "mark": {"type": "point", "filled": true, "opacity": 1, "size": 66, "color": "black", "strokeWidth": 0},
     "encoding": {
       "x": {"field": "group", "type": "nominal", "title": null, "scale": {"domain": ["C1","C2","C3"], "paddingInner": 0, "paddingOuter": 0}},
       "xOffset": {"field": "slot", "type": "quantitative", "scale": {"domain": [-8, 8]}},
       "y": {"field": "value", "type": "quantitative", "scale": {"domain": [-40, 40], "nice": false}, "axis": {"values": [-40,-20,0,20,40], "title": "Bodyweight change (kgs)", "labelExpr": "'' + datum.value"}},
       "shape": {"field": "group", "type": "nominal", "scale": {"domain": ["C1","C2","C3"], "range": ["circle","square","triangle-up"]}, "legend": null}
     }},
    {"data": {"values": [{}]}, "mark": {"type": "rule", "color": "black", "strokeWidth": 2}, "encoding": {"y": {"datum": 0}}},
    {"data": {"name": "means"}, "transform": [{"filter": "datum.panel === 'A'"}],
     "mark": {"type": "tick", "color": "black", "opacity": 1, "thickness": 2, "size": 115},
     "encoding": {"x": {"field": "group", "type": "nominal"}, "y": {"field": "mean", "type": "quantitative"}}}
   ]},
  {"width": 505, "height": 341,
   "title": {"text": "B", "dx": -116, "dy": 41},
   "layer": [
    {"data": {"name": "B"},
     "mark": {"type": "point", "filled": true, "opacity": 1, "size": 135, "color": "black", "strokeWidth": 0},
     "encoding": {
       "x": {"field": "group", "type": "nominal", "title": null, "scale": {"domain": ["C1","C2","C3"], "paddingInner": 0, "paddingOuter": 0}, "axis": {"labelOffset": 15}},
       "xOffset": {"field": "slot", "type": "quantitative", "scale": {"domain": [-5, 5]}},
       "y": {"field": "value", "type": "quantitative", "scale": {"domain": [-40, 40], "nice": false}, "axis": {"values": [-40,-20,0,20,40], "title": "Bodyweight change (kgs)", "labelExpr": "'' + datum.value"}},
       "shape": {"field": "group", "type": "nominal", "scale": {"domain": ["C1","C2","C3"], "range": ["circle","square","triangle-up"]}, "legend": null}
     }},
    {"data": {"values": [{}]}, "mark": {"type": "rule", "color": "black", "strokeWidth": 3.5}, "encoding": {"y": {"datum": 0}}},
    {"data": {"name": "means"}, "transform": [{"filter": "datum.panel === 'B'"}],
     "mark": {"type": "tick", "color": "black", "opacity": 1, "thickness": 4, "size": 115},
     "encoding": {"x": {"field": "group", "type": "nominal"}, "y": {"field": "mean", "type": "quantitative"}}}
   ]}
 ], "spacing": 17},
{"hconcat": [
  {"width": 525, "height": 350,
   "title": {"text": "C", "dx": -102, "dy": 29},
   "layer": [
    {"data": {"name": "C"},
     "mark": {"type": "point", "filled": true, "opacity": 1, "size": 30, "color": "black", "strokeWidth": 0},
     "encoding": {
       "x": {"field": "group", "type": "nominal", "title": null, "scale": {"domain": ["C1","C2","C3"], "paddingInner": 0, "paddingOuter": 0}, "axis": {"labelPadding": -3}},
       "xOffset": {"field": "slot", "type": "quantitative", "scale": {"domain": [-8, 8]}},
       "y": {"field": "value", "type": "quantitative", "scale": {"domain": [-10, 10], "nice": false}, "axis": {"values": [-10,-5,0,5,10], "title": "Bodyweight change (kgs)", "labelExpr": "'' + datum.value"}},
       "shape": {"field": "group", "type": "nominal", "scale": {"domain": ["C1","C2","C3"], "range": ["circle","square","triangle-up"]}, "legend": null}
     }},
    {"data": {"values": [{}]}, "mark": {"type": "rule", "color": "black", "strokeWidth": 2}, "encoding": {"y": {"datum": 0}}},
    {"data": {"name": "means"}, "transform": [{"filter": "datum.panel === 'C'"}],
     "mark": {"type": "tick", "color": "black", "opacity": 1, "thickness": 3, "size": 112},
     "encoding": {"x": {"field": "group", "type": "nominal"}, "y": {"field": "mean", "type": "quantitative"}}}
   ]},
  {"vconcat": [
    {"width": 10, "height": 152, "data": {"values": []}, "mark": "point", "encoding": {}},
    {"title": {"text": "Mean bodyweight change (SD)", "fontSize": 21, "fontWeight": "bold", "color": "#111", "anchor": "start", "frame": "bounds", "dx": -11, "dy": 0, "offset": 21},
     "vconcat": [
      {"hconcat": [
        {"width": 104, "height": 108, "data": {"name": "means"},
         "layer": [
          {"transform": [{"filter": "datum.group === 'C1'"}],
           "mark": {"type": "text", "fontSize": 18, "color": "#222"},
           "encoding": {"y": {"field": "panel", "type": "nominal", "scale": {"type": "band", "domain": ["header","A","B","C"], "paddingInner": 0, "paddingOuter": 0}, "axis": null}, "text": {"field": "panel"}}},
          {"transform": [{"filter": "datum.group === 'C1'"}],
           "mark": {"type": "rule", "color": "#666", "strokeWidth": 1.5},
           "encoding": {"y": {"field": "panel", "type": "nominal", "bandPosition": 1}}},
          {"mark": {"type": "rule", "color": "#666", "strokeWidth": 1.5},
           "encoding": {"y": {"datum": "header", "type": "nominal", "bandPosition": 1}}},
          {"mark": {"type": "rule", "color": "#666", "strokeWidth": 1.5},
           "encoding": {"y": {"datum": "header", "type": "nominal", "bandPosition": 0}}}
         ]},
        {"width": 430, "height": 108, "data": {"name": "means"},
         "layer": [
          {"transform": [{"filter": "datum.panel === 'A'"}],
           "mark": {"type": "text", "fontSize": 18, "color": "#222", "dx": -35},
           "encoding": {"x": {"field": "group", "type": "nominal", "scale": {"type": "band", "domain": ["C1","C2","C3"], "paddingInner": 0, "paddingOuter": 0}, "axis": null},
                        "y": {"datum": "header", "type": "nominal", "scale": {"type": "band", "domain": ["header","A","B","C"], "paddingInner": 0, "paddingOuter": 0}, "axis": null},
                        "text": {"field": "group"}}},
          {"mark": {"type": "text", "fontSize": 18, "color": "#222", "align": "right", "dx": -1, "dy": 1},
           "encoding": {"x": {"field": "group", "type": "nominal"}, "y": {"field": "panel", "type": "nominal"}, "text": {"field": "mean", "type": "nominal"}}},
          {"transform": [{"calculate": "'(' + datum.sd + ')'", "as": "sdLabel"}],
           "mark": {"type": "text", "fontSize": 18, "color": "#222", "align": "left", "dx": 11, "dy": -2},
           "encoding": {"x": {"field": "group", "type": "nominal"}, "y": {"field": "panel", "type": "nominal"}, "text": {"field": "sdLabel", "type": "nominal"}}},
          {"mark": {"type": "rule", "color": "#666", "strokeWidth": 1.5},
           "encoding": {"y": {"datum": "header", "type": "nominal", "bandPosition": 1}}},
          {"mark": {"type": "rule", "color": "#666", "strokeWidth": 1.5},
           "encoding": {"y": {"datum": "header", "type": "nominal", "bandPosition": 0}}}
         ]}
       ], "spacing": 0},
      {"width": 534, "height": 35, "data": {"name": "ns"},
       "layer": [
        {"mark": {"type": "rule", "color": "#444", "strokeWidth": 1.3, "xOffset": -40, "x2Offset": -21},
         "encoding": {"x": {"field": "from", "type": "nominal", "bandPosition": 0.5, "scale": {"type": "band", "domain": ["C1","C2","C3"], "paddingInner": 0, "paddingOuter": 0.363, "align": 1}, "axis": null},
                      "x2": {"field": "to"},
                      "y": {"field": "pair", "type": "nominal", "scale": {"type": "point", "domain": ["C1-C2","C2-C3","C1-C3"], "padding": 0}, "axis": null}}},
        {"transform": [{"filter": "datum.from === 'C1'"}],
         "mark": {"type": "text", "fontSize": 14, "color": "#333", "dx": -57, "dy": 0},
         "encoding": {"x": {"field": "from", "type": "nominal"}, "y": {"field": "pair", "type": "nominal"}, "text": {"field": "result"}}},
        {"transform": [{"filter": "datum.pair === 'C2-C3'"}],
         "mark": {"type": "text", "fontSize": 14, "color": "#333", "align": "left", "dx": -12, "dy": 1},
         "encoding": {"x": {"field": "to", "type": "nominal"}, "y": {"field": "pair", "type": "nominal"}, "text": {"field": "result"}}}
       ]}
     ], "spacing": 13}
   ], "spacing": 0}
 ], "spacing": 40}
], "spacing": 52
}
